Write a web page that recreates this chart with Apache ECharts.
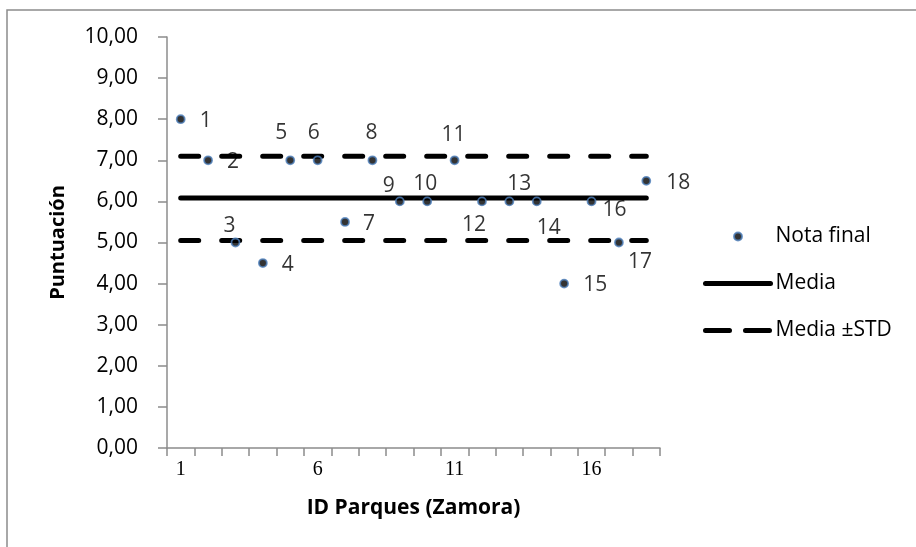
<!DOCTYPE html>
<html>
<head>
<meta charset="utf-8">
<script src="https://cdn.jsdelivr.net/npm/echarts@6/dist/echarts.min.js"></script>
<style>
html,body{margin:0;padding:0;background:#fff;}
#chart{width:916px;height:547px;}
</style>
</head>
<body>
<div id="chart"></div>
<script>
const categories = ['1','2','3','4','5','6','7','8','9','10','11','12','13','14','15','16','17','18'];
const notaFinal = [8, 7, 5, 4.5, 7, 7, 5.5, 7, 6, 6, 7, 6, 6, 6, 4, 6, 5, 6.5];
const media = [6.08, 6.08, 6.08, 6.08, 6.08, 6.08, 6.08, 6.08, 6.08, 6.08, 6.08, 6.08, 6.08, 6.08, 6.08, 6.08, 6.08, 6.08];
const mediaPlusStd = [7.1, 7.1, 7.1, 7.1, 7.1, 7.1, 7.1, 7.1, 7.1, 7.1, 7.1, 7.1, 7.1, 7.1, 7.1, 7.1, 7.1, 7.1];
const mediaMinusStd = [5.05, 5.05, 5.05, 5.05, 5.05, 5.05, 5.05, 5.05, 5.05, 5.05, 5.05, 5.05, 5.05, 5.05, 5.05, 5.05, 5.05, 5.05];
const yTicks = [0, 1, 2, 3, 4, 5, 6, 7, 8, 9, 10];

// label offsets (style only): label centre relative to point
const labelOffsets = [
  [25, 2], [25, 2], [-6, -16], [25, 2], [-9, -27], [-4, -27], [24, 2], [-1, -27], [-11, -15],
  [-2, -17], [-1, -25], [-8, 24], [10, -17], [12, 27], [31, 1], [23, 9], [21, 20], [32, 2]
];

const FONT = 'Open Sans';
const chart = echarts.init(document.getElementById('chart'));

const scatterData = notaFinal.map((v, i) => ({
  value: [categories[i], v],
  label: {
    show: true,
    position: 'inside',
    offset: labelOffsets[i],
    formatter: categories[i],
    color: '#000',
    fontFamily: FONT,
    fontSize: 21
  }
}));

const dashStyle = { color: '#000', width: 5, type: [18, 23], cap: 'round' };

chart.setOption({
  animation: false,
  backgroundColor: '#fff',
  graphic: [{
    type: 'rect',
    shape: { x: 7, y: 10, width: 920, height: 550 },
    style: { fill: 'none', stroke: '#8c8c8c', lineWidth: 1.5 },
    silent: true
  }],
  grid: { left: 167, right: 256, top: 37, bottom: 99, containLabel: false },
  legend: {
    orient: 'vertical',
    left: 698,
    top: 221,
    itemWidth: 65,
    itemHeight: 8,
    itemGap: 26,
    textStyle: { fontFamily: FONT, fontSize: 21, color: '#000' },
    data: [
      { name: 'Nota final' },
      { name: 'Media', itemStyle: { opacity: 0 }, lineStyle: { width: 5, color: '#000', type: 'solid', cap: 'round' } },
      { name: 'Media ±STD', itemStyle: { opacity: 0 }, lineStyle: { width: 5, color: '#000', type: [24, 16], cap: 'round' } }
    ]
  },
  xAxis: {
    type: 'category',
    data: categories,
    boundaryGap: true,
    name: 'ID Parques (Zamora)',
    nameLocation: 'middle',
    nameGap: 50,
    nameTextStyle: { fontFamily: FONT, fontSize: 21, fontWeight: 'bold', color: '#000' },
    axisLine: { lineStyle: { color: '#8c8c8c', width: 1.5 } },
    axisTick: { show: true, interval: 0, length: 8, lineStyle: { color: '#8c8c8c', width: 1.5 } },
    axisLabel: { interval: 4, margin: 12, fontFamily: 'Liberation Serif', fontSize: 20, color: '#000' },
    splitLine: { show: false }
  },
  yAxis: {
    type: 'value',
    min: yTicks[0],
    max: yTicks[yTicks.length - 1],
    interval: 1,
    name: 'Puntuación',
    nameLocation: 'middle',
    nameGap: 99,
    nameRotate: 90,
    nameTextStyle: { fontFamily: FONT, fontSize: 20, fontWeight: 'bold', color: '#000' },
    axisLine: { show: true, lineStyle: { color: '#8c8c8c', width: 1.5 } },
    axisTick: { show: true, length: 9, lineStyle: { color: '#8c8c8c', width: 1.5 } },
    axisLabel: {
      margin: 29,
      fontFamily: FONT, fontSize: 21, color: '#000',
      formatter: v => v.toFixed(2).replace('.', ',')
    },
    splitLine: { show: false }
  },
  series: [
    {
      name: 'Media',
      type: 'line',
      data: media,
      symbol: 'none',
      lineStyle: { color: '#000', width: 5, cap: 'round' },
      itemStyle: { color: '#000' },
      z: 2
    },
    {
      name: 'Media ±STD',
      type: 'line',
      data: mediaPlusStd,
      symbol: 'none',
      lineStyle: dashStyle,
      itemStyle: { color: '#000' },
      z: 2
    },
    {
      name: 'Media ±STD',
      type: 'line',
      data: mediaMinusStd,
      symbol: 'none',
      lineStyle: dashStyle,
      itemStyle: { color: '#000' },
      z: 2
    },
    {
      name: 'Nota final',
      type: 'scatter',
      data: scatterData,
      symbol: 'circle',
      symbolSize: 8,
      itemStyle: { color: '#000', borderColor: '#4f81bd', borderWidth: 1.8 },
      z: 3
    }
  ]
});
</script>
</body>
</html>
